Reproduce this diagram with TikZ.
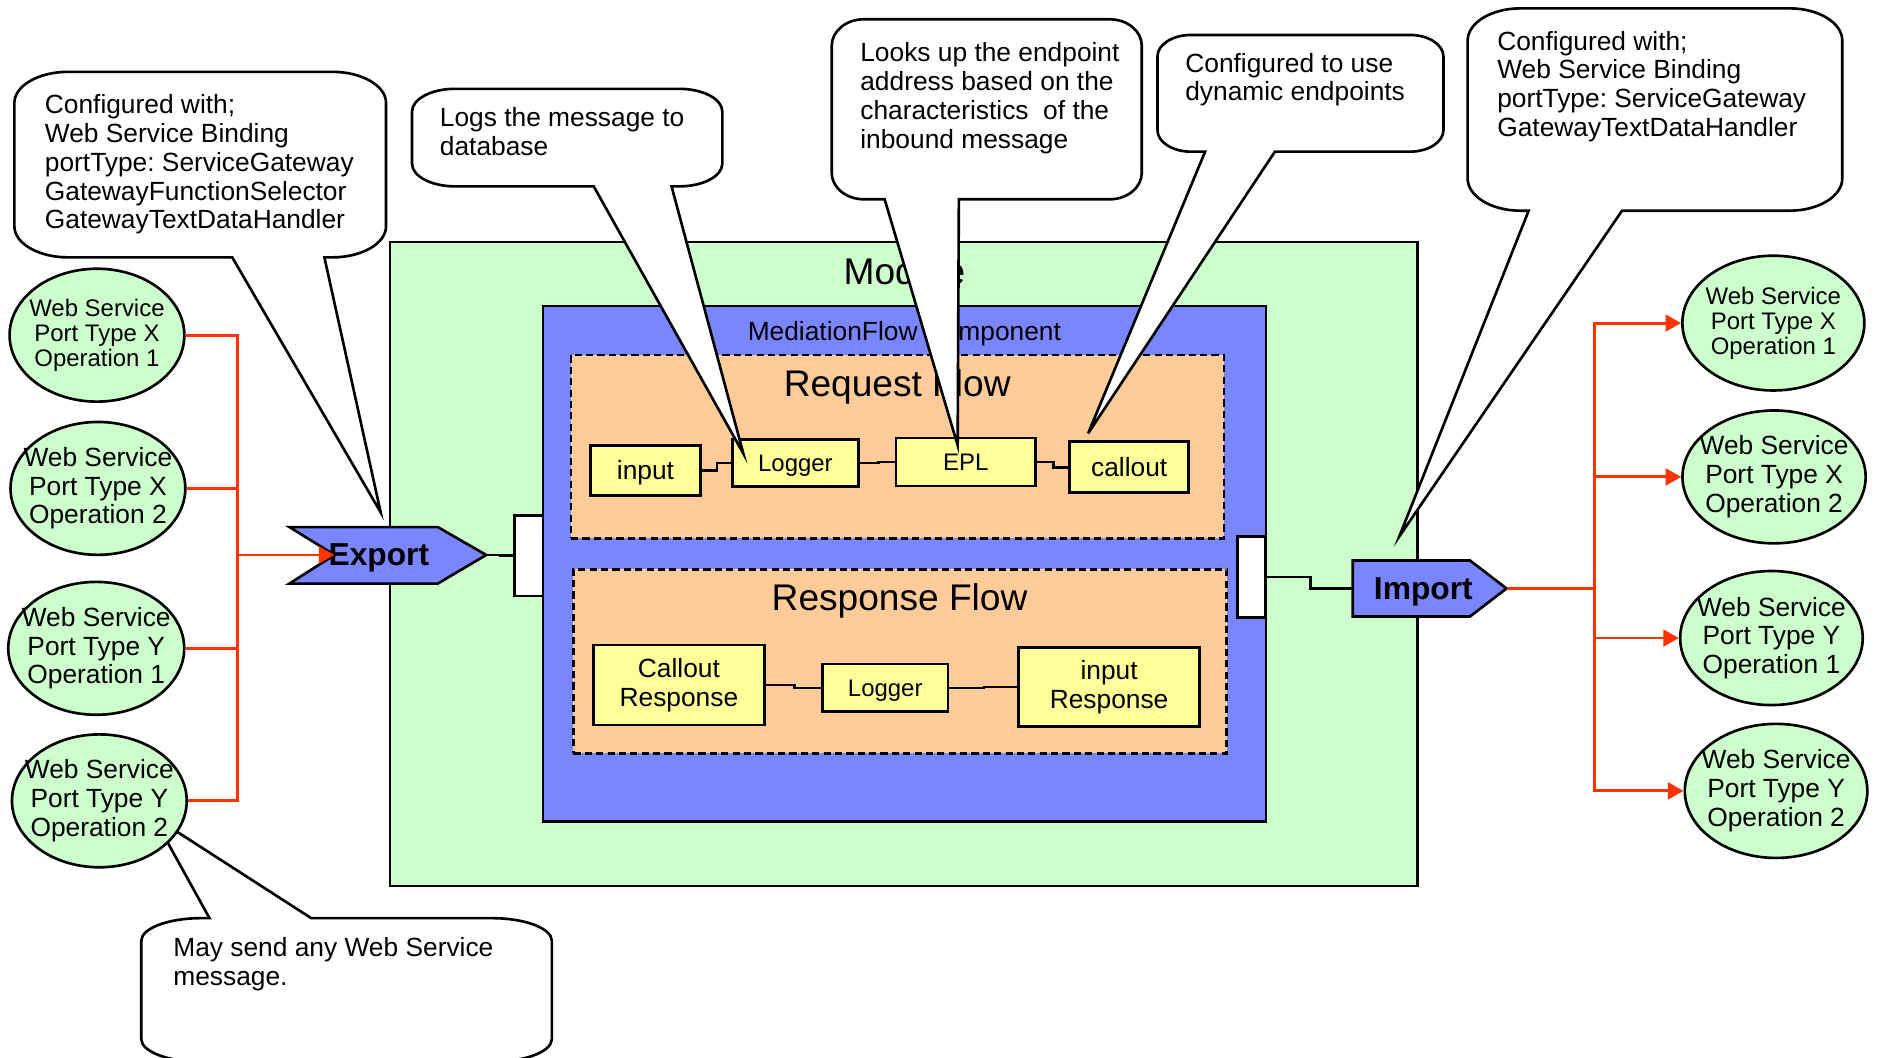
\documentclass[tikz,border=0pt]{standalone}
\usepackage{fontspec}
\setmainfont{Liberation Sans}
\usetikzlibrary{arrows.meta,shapes.geometric}
\frenchspacing

\definecolor{modgreen}{RGB}{204,255,204}
\definecolor{medblue}{RGB}{122,134,255}
\definecolor{flowpeach}{RGB}{255,204,153}
\definecolor{primyellow}{RGB}{255,255,153}
\definecolor{wirered}{RGB}{255,51,0}

\newcommand{\fsz}[2]{\fontsize{#1}{#2}\selectfont}

% Rounded speech bubble whose pointer leaves the bottom edge.
% #1,#2 top left corner; #3,#4 bottom right corner; #5,#6 corner radii;
% #7,#8 left and right ends of the pointer base; #9 name of the pointer tip.
\newcommand{\bubbledown}[9]{%
  \draw[bubble] ({#1+#5},#2) -- ({#3-#5},#2)
    .. controls ({#3-0.4477*#5},#2) and (#3,{#2+0.4477*#6}) .. (#3,{#2+#6})
    -- (#3,{#4-#6})
    .. controls (#3,{#4-0.4477*#6}) and ({#3-0.4477*#5},#4) .. ({#3-#5},#4)
    -- (#8,#4) -- (#9) -- (#7,#4) -- ({#1+#5},#4)
    .. controls ({#1+0.4477*#5},#4) and (#1,{#4-0.4477*#6}) .. (#1,{#4-#6})
    -- (#1,{#2+#6})
    .. controls (#1,{#2+0.4477*#6}) and ({#1+0.4477*#5},#2) .. ({#1+#5},#2)
    -- cycle;}

\begin{document}
\begin{tikzpicture}[x=1pt,y=-1pt,
  op/.style={ellipse,draw,line width=2.2pt,fill=modgreen,inner sep=-15pt,align=center},
  opsmall/.style={op,font=\fsz{20}{21}},
  oplarge/.style={op,font=\fsz{22}{24}},
  boxframe/.style={draw,line width=2pt,inner sep=0pt},
  flowarea/.style={boxframe,fill=flowpeach,dash pattern=on 6pt off 3.5pt},
  prim/.style={draw,line width=2.2pt,fill=primyellow,inner sep=0pt,align=center,font=\fsz{22}{24}},
  primone/.style={prim,text height=15.75pt,text depth=0pt},
  primsmall/.style={prim,font=\fsz{20}{22},text height=14.3pt,text depth=0pt},
  wire/.style={line width=2.2pt},
  port/.style={draw,line width=2.2pt,fill=medblue,line join=miter},
  portlabel/.style={anchor=base,inner sep=0pt,font=\bfseries\fsz{26.5}{28}},
  iface/.style={draw,line width=2.2pt,fill=white,inner sep=0pt},
  feed/.style={wirered,line width=2.4pt},
  feedarrow/.style={feed,-{Triangle[length=13pt,width=14pt]}},
  bubble/.style={draw,fill=white,line width=2.2pt,line join=miter},
  note/.style={anchor=north west,inner sep=0pt,align=left,font=\fsz{22}{24}},
  boxtitle/.style={anchor=base,inner sep=0pt}
]
\useasboundingbox (0,0) rectangle (1568,883);

% ---- note below the last left-hand operation (sits under the ellipse)
\coordinate (tipAny) at (128,682);
\draw[bubble] (168,767) -- (175,767) -- (tipAny) -- (260,767) -- (411,767)
  .. controls (438.6,767) and (461,775.5) .. (461,786) -- (461,868)
  .. controls (461,878.5) and (438.6,887) .. (411,887) -- (168,887)
  .. controls (140.4,887) and (118,878.5) .. (118,868) -- (118,786)
  .. controls (118,775.5) and (140.4,767) .. (168,767) -- cycle;
\node[note] (noteAny) at (144.6,782.2) {\strut May send any Web Service\\message.};

% ---- web service operations, left
\node[opsmall,minimum width=146pt,minimum height=111pt] (E1) at (81,280) {Web Service\\Port Type X\\Operation 1};
\node[oplarge,minimum width=146pt,minimum height=111pt] (E2) at (81.8,408) {Web Service\\Port Type X\\Operation 2};
\node[oplarge,minimum width=147pt,minimum height=111pt] (E3) at (80.4,541.6) {Web Service\\Port Type Y\\Operation 1};
\node[oplarge,minimum width=146pt,minimum height=111pt] (E4) at (83,669) {Web Service\\Port Type Y\\Operation 2};

% ---- web service operations, right
\node[opsmall,minimum width=152pt,minimum height=112.6pt] (R1) at (1481.4,269.9) {Web Service\\Port Type X\\Operation 1};
\node[oplarge,minimum width=153pt,minimum height=111pt] (R2) at (1482,398.4) {Web Service\\Port Type X\\Operation 2};
\node[oplarge,minimum width=152.5pt,minimum height=112pt] (R3) at (1479.8,533) {Web Service\\Port Type Y\\Operation 1};
\node[oplarge,minimum width=152.5pt,minimum height=112pt] (R4) at (1483.7,660.7) {Web Service\\Port Type Y\\Operation 2};

% ---- module and mediation component
\node[boxframe,fill=modgreen,minimum width=858pt,minimum height=538pt] (module) at (755,471) {};
\node[boxtitle,font=\fsz{31}{34}] (moduleTitle) at (755.6,238) {Module};
\node[boxframe,fill=medblue,minimum width=603.8pt,minimum height=430.5pt] (mediation) at (755.5,471.05) {};
\node[boxtitle,font=\fsz{22}{24}] (mediationTitle) at (755.5,284.5) {MediationFlow Component};

\node[flowarea,minimum width=545.3pt,minimum height=153.4pt] (request) at (749.65,373.1) {};
\node[boxtitle,font=\fsz{31}{34}] (requestTitle) at (749.5,331) {Request Flow};
\node[flowarea,minimum width=545.7pt,minimum height=153.7pt] (response) at (751.85,552.45) {};
\node[boxtitle,font=\fsz{31}{34}] (responseTitle) at (751.5,510) {Response Flow};

% ---- request flow primitives
\node[primone,minimum width=91.5pt,minimum height=42pt] (reqIn) at (539.25,393) {input};
\node[primsmall,minimum width=105pt,minimum height=39.5pt] (reqLog) at (664.5,386.75) {Logger};
\node[primsmall,minimum width=116.5pt,minimum height=40pt] (reqEPL) at (806.75,386) {EPL};
\node[primone,minimum width=99.4pt,minimum height=42.6pt] (reqCall) at (943.3,390.3) {callout};
\draw[wire] (reqIn.east) -- ++(13,0) |- (reqLog.west);
\draw[wire] (reqLog.east) -- ++(16,0) |- (reqEPL.west);
\draw[wire] (reqEPL.east) -- ++(14,0) |- (reqCall.west);

% ---- response flow primitives
\node[prim,minimum width=143.1pt,minimum height=66.9pt] (respCall) at (567.15,572.25) {Callout\\Response};
\node[primsmall,minimum width=105pt,minimum height=39.8pt] (respLog) at (739.5,574.6) {Logger};
\node[prim,minimum width=151pt,minimum height=66.2pt] (respIn) at (926.5,573.9) {input\\Response};
\draw[wire] (respCall.east) -- ++(24,0) |- (respLog.west);
\draw[wire] (respLog.east) -- ++(29,0) |- (respIn.west);

% ---- component interfaces and references
\node[iface,minimum width=23.6pt,minimum height=67.1pt] (ifaceIn) at (441.8,464.25) {};
\node[iface,minimum width=23.9pt,minimum height=67.3pt] (ifaceOut) at (1045.45,481.95) {};

% ---- export
\coordinate (exA) at (241.8,440.3);
\coordinate (exB) at (365.7,440.3);
\coordinate (exTip) at (406.2,463.6);
\coordinate (exC) at (365.7,487.5);
\coordinate (exD) at (241.8,487.5);
\coordinate (exNotch) at (279.4,463.6);
\draw[port] (exA) -- (exB) -- (exTip) -- (exC) -- (exD) -- (exNotch) -- cycle;
\node[portlabel] (exportLabel) at (316.5,472.5) {Export};
\draw[wire] (exTip) -- ++(12,0) |- (ifaceIn.west);

% ---- import
\coordinate (imA) at (1130,468.2);
\coordinate (imB) at (1228,468.2);
\coordinate (imTip) at (1258.5,491.6);
\coordinate (imC) at (1228,515);
\coordinate (imD) at (1130,515);
\coordinate (imIn) at (1130,491.6);
\draw[port] (imA) -- (imB) -- (imTip) -- (imC) -- (imD) -- cycle;
\node[portlabel] (importLabel) at (1189,500.8) {Import};
\draw[wire] (ifaceOut.east) -- ++(36,0) |- (imIn);

% ---- message routing
\coordinate (leftJoin) at (198.4,463.6);
\foreach \e in {E1,E2,E3,E4} \draw[feed] (\e.east) -| (leftJoin);
\draw[feedarrow] (leftJoin) -- (exNotch);
\coordinate (rightJoin) at (1332.3,491.6);
\draw[feed] (imTip) -- (rightJoin);
\foreach \r in {R1,R2,R3,R4} \draw[feedarrow] (rightJoin) |- (\r.west);

% ---- notes
\coordinate (tipExport) at (318,428);
\bubbledown{12}{60}{322.5}{215}{45}{26}{194}{271}{tipExport}
\node[note] (noteExport) at (37.3,78.2) {\strut Configured with;\\Web Service Binding\\portType: ServiceGateway\\GatewayFunctionSelector\\GatewayTextDataHandler};

\coordinate (tipLogger) at (621,379);
\bubbledown{344.2}{74.2}{603.4}{155.7}{36}{19}{496}{561}{tipLogger}
\node[note] (noteLogger) at (367.3,88.7) {\strut Logs the message to\\database};

\coordinate (tipEPL) at (800,372);
\bubbledown{694.8}{16.1}{953.8}{166.5}{27}{22}{739}{801}{tipEPL}
\node[note] (noteEPL) at (718.5,34.7) {\strut Looks up the endpoint\\address based on the\\characteristics\ \ of the\\inbound message};

\coordinate (tipCallout) at (909,362);
\bubbledown{966.9}{29.2}{1205.8}{126.7}{28}{18}{1006.7}{1065}{tipCallout}
\node[note] (noteCallout) at (990,43.2) {\strut Configured to use\\dynamic endpoints};

\coordinate (tipImport) at (1169,448);
\bubbledown{1226}{7}{1539}{176}{44}{27}{1277}{1355}{tipImport}
\node[note] (noteImport) at (1250.6,24.8) {\strut Configured with;\\Web Service Binding\\portType: ServiceGateway\\GatewayTextDataHandler};
\end{tikzpicture}
\end{document}
